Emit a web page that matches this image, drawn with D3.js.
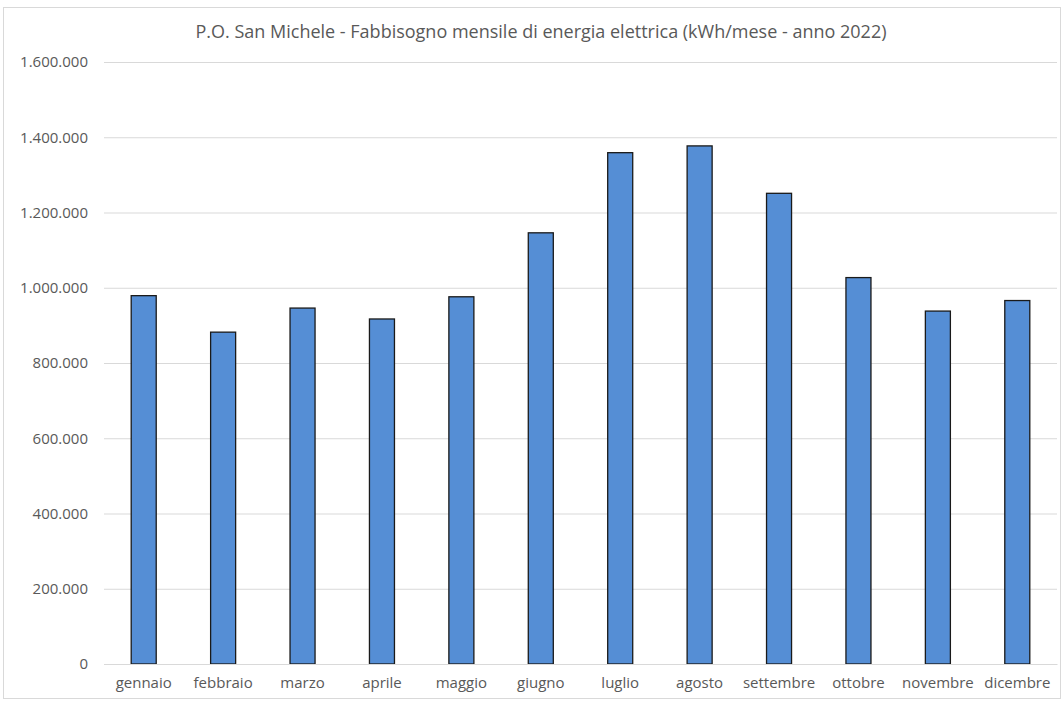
<!DOCTYPE html>
<html><head><meta charset="utf-8">
<script src="https://cdn.jsdelivr.net/npm/d3@7"></script>
<style>body{margin:0;background:#fff}svg{display:block}</style>
</head><body>
<svg id="c" width="1064" height="702"></svg>
<script>
const months = ["gennaio","febbraio","marzo","aprile","maggio","giugno","luglio","agosto","settembre","ottobre","novembre","dicembre"];
const values = [979000, 882000, 946000, 917000, 976000, 1146000, 1359000, 1377000, 1251000, 1027000, 938000, 966000];
const yTicks = [0,200000,400000,600000,800000,1000000,1200000,1400000,1600000];
const title = "P.O. San Michele - Fabbisogno mensile di energia elettrica (kWh/mese - anno 2022)";

const svg = d3.select("#c");
const font = "'Open Sans', sans-serif";
const txt = "#595959";
const m = {l:104, r:1057, t:62, b:664};

svg.append("rect").attr("x",3.5).attr("y",7.5).attr("width",1057).attr("height",691)
  .attr("fill","#fff").attr("stroke","#d9d9d9");

const x = d3.scaleBand().domain(months).range([m.l,m.r]).paddingInner(0.685).paddingOuter(0.3425);
const y = d3.scaleLinear().domain([0,1600000]).range([m.b,m.t]);
const fmt = d => d3.format(",")(d).replace(/,/g,".");

const ya = svg.append("g").attr("transform",`translate(${m.l},0)`)
  .call(d3.axisLeft(y).tickValues(yTicks).tickFormat(fmt).tickSize(-(m.r-m.l)).tickPadding(16));
ya.select(".domain").remove();
ya.selectAll(".tick line").attr("stroke","#d9d9d9").attr("stroke-width",1);
ya.selectAll(".tick text").attr("fill",txt).style("font-family",font).style("font-size","15px");

svg.selectAll("rect.bar").data(values).join("rect").attr("class","bar")
  .attr("x",(d,i)=>x(months[i])).attr("width",x.bandwidth())
  .attr("y",d=>y(d)).attr("height",d=>y(0)-y(d))
  .attr("fill","#558ed5").attr("stroke","#1a1a1a").attr("stroke-width",1.3);

const xa = svg.append("g").attr("transform",`translate(0,${m.b})`)
  .call(d3.axisBottom(x).tickSize(0).tickPadding(13));
xa.select(".domain").attr("stroke","#d9d9d9");
xa.selectAll(".tick text").attr("fill",txt).style("font-family",font).style("font-size","15px");

svg.append("text").attr("x",541).attr("y",38).attr("text-anchor","middle")
  .attr("fill",txt).style("font-family",font).style("font-size","18px").text(title);
</script>
</body></html>
